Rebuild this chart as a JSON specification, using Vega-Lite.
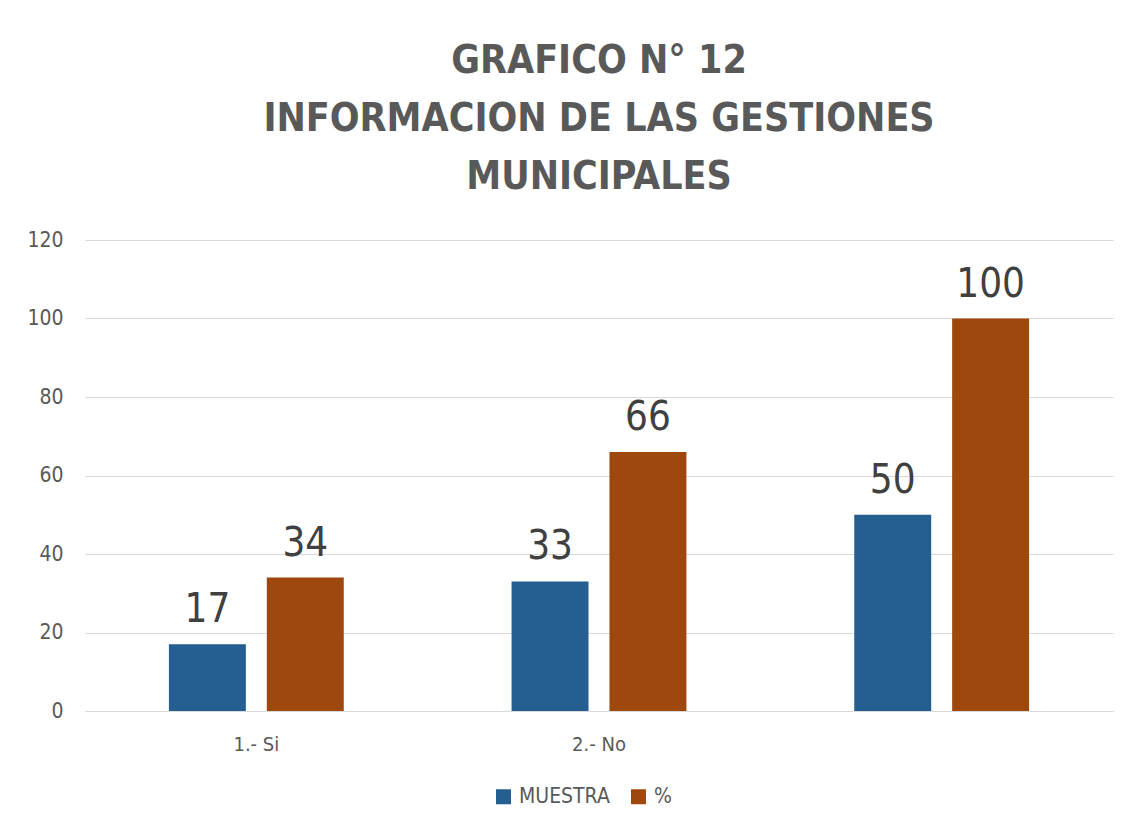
{
  "$schema": "https://vega.github.io/schema/vega-lite/v6.json",
  "width": 1028,
  "height": 471,
  "autosize": {"type": "none"},
  "padding": {"left": 85, "top": 240, "right": 19, "bottom": 114},
  "background": "white",
  "title": {
    "text": ["GRAFICO N° 12", "INFORMACION DE LAS GESTIONES", "MUNICIPALES"],
    "font": "DejaVu Sans Condensed, Open Sans, sans-serif",
    "fontSize": 39,
    "fontWeight": "bold",
    "color": "#595959",
    "lineHeight": 58,
    "anchor": "middle",
    "offset": 32
  },
  "data": {
    "values": [
      {"categoria": "1.- Si", "serie": "MUESTRA", "valor": 17},
      {"categoria": "1.- Si", "serie": "%", "valor": 34},
      {"categoria": "2.- No", "serie": "MUESTRA", "valor": 33},
      {"categoria": "2.- No", "serie": "%", "valor": 66},
      {"categoria": "", "serie": "MUESTRA", "valor": 50},
      {"categoria": "", "serie": "%", "valor": 100}
    ]
  },
  "encoding": {
    "x": {
      "field": "categoria", "type": "nominal",
      "sort": ["1.- Si", "2.- No", ""],
      "scale": {"paddingInner": 0, "paddingOuter": 0},
      "axis": {"title": null, "labelAngle": 0, "labelFont": "DejaVu Sans Condensed, Open Sans, sans-serif", "labelFontSize": 20, "labelColor": "#595959", "ticks": false, "domainColor": "#d9d9d9", "labelPadding": 23}
    },
    "xOffset": {
      "field": "serie", "type": "nominal",
      "sort": ["MUESTRA", "%"],
      "scale": {"paddingInner": 0.214, "paddingOuter": 0.857}
    },
    "y": {
      "field": "valor", "type": "quantitative",
      "scale": {"domain": [0, 120]},
      "axis": {"title": null, "values": [0, 20, 40, 60, 80, 100, 120], "labelFont": "DejaVu Sans Condensed, Open Sans, sans-serif", "labelFontSize": 21, "labelColor": "#595959", "ticks": false, "domain": false, "gridColor": "#d9d9d9", "labelPadding": 22}
    }
  },
  "layer": [
    {
      "mark": {"type": "bar"},
      "encoding": {
        "color": {
          "field": "serie", "type": "nominal",
          "sort": ["MUESTRA", "%"],
          "scale": {"domain": ["MUESTRA", "%"], "range": ["#255E91", "#9E480E"]},
          "legend": {
            "title": null, "orient": "none", "direction": "horizontal",
            "legendX": 408, "legendY": 546,
            "symbolType": "square", "symbolSize": 225, "symbolStrokeWidth": 0,
            "labelFont": "DejaVu Sans Condensed, Open Sans, sans-serif", "labelFontSize": 21, "labelColor": "#595959",
            "columnPadding": 18, "labelOffset": 5
          }
        }
      }
    },
    {
      "mark": {"type": "text", "baseline": "alphabetic", "dy": -22, "font": "DejaVu Sans Condensed, Open Sans, sans-serif", "fontSize": 40, "color": "#404040"},
      "encoding": {"text": {"field": "valor", "type": "quantitative"}}
    }
  ],
  "config": {"view": {"stroke": null}}
}
